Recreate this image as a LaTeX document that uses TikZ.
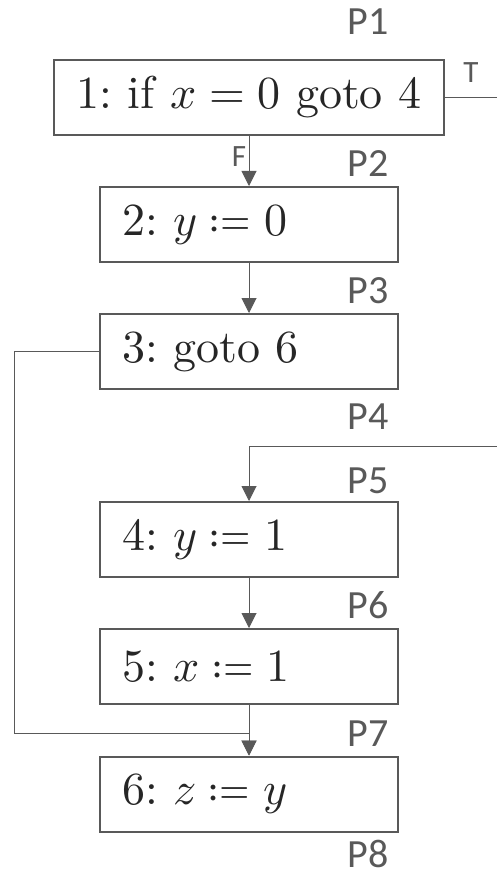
\documentclass[tikz,border=0pt]{standalone}
\usepackage{fontspec}
\usepackage{unicode-math}
\setmainfont{lmroman10-regular.otf}[ItalicFont=lmroman10-italic.otf]
\setmathfont{latinmodern-math.otf}
\usetikzlibrary{arrows.meta}
\newfontfamily\labfont{Carlito}
\definecolor{edgegray}{HTML}{595959}
\definecolor{inkgray}{HTML}{262626}
\frenchspacing
\begin{document}
\begin{tikzpicture}[x=1pt,y=-1pt,
  stmt/.style={draw=edgegray, line width=2pt, minimum height=75pt, inner sep=0pt,
    text=inkgray, font=\fontsize{46}{52}\selectfont},
  lstmt/.style={stmt, text width=254pt, inner xsep=22pt, align=left},
  plabel/.style={text=edgegray, font=\labfont\fontsize{40}{44}\selectfont, inner sep=0pt},
  blabel/.style={text=edgegray, font=\labfont\fontsize{31}{34}\selectfont, inner sep=0pt},
  flow/.style={draw=edgegray, line width=1pt},
  arr/.style={flow, -{Triangle[length=15pt,width=15pt]}}]
\useasboundingbox (0,0) rectangle (497,877);

% statements
\node[stmt, minimum width=390pt] (b1) at (249,97.5) {1: if $x = 0$ goto 4};
\node[lstmt] (b2) at (249,224.5) {2: $y \coloneq 0$};
\node[lstmt] (b3) at (249,351.5) {3: goto 6};
\node[lstmt] (b4) at (249,539.5) {4: $y \coloneq 1$};
\node[lstmt] (b5) at (249,666.5) {5: $x \coloneq 1$};
\node[lstmt] (b6) at (249,794) {6: $z \coloneq y$};

% program points
\node[plabel] (p1) at (368,22) {P1};
\node[plabel] (p2) at (368,164) {P2};
\node[plabel] (p3) at (368,291) {P3};
\node[plabel] (p4) at (368,417) {P4};
\node[plabel] (p5) at (368,481) {P5};
\node[plabel] (p6) at (368,605) {P6};
\node[plabel] (p7) at (368,734) {P7};
\node[plabel] (p8) at (368,854) {P8};

% branch labels
\node[blabel] (lt) at (471,73) {T};
\node[blabel] (lf) at (239,157) {F};

% connector end points
\coordinate (tout) at (497,97.5);
\coordinate (tin) at (497,446);
\coordinate (tcorner) at (249,446);
\coordinate (ga) at (14,351.5);
\coordinate (gb) at (14,733);
\coordinate (join) at (249,733);

% edges
\draw[flow] (b1.east) -- (tout);
\draw[arr] (tin) -- (tcorner) -- (b4.north);
\draw[arr] (b1.south) -- (b2.north);
\draw[arr] (b2.south) -- (b3.north);
\draw[arr] (b4.south) -- (b5.north);
\draw[arr] (b5.south) -- (b6.north);
\draw[arr] (b3.west) -- (ga) -- (gb) -- (join) -- (b6.north);
\end{tikzpicture}
\end{document}
